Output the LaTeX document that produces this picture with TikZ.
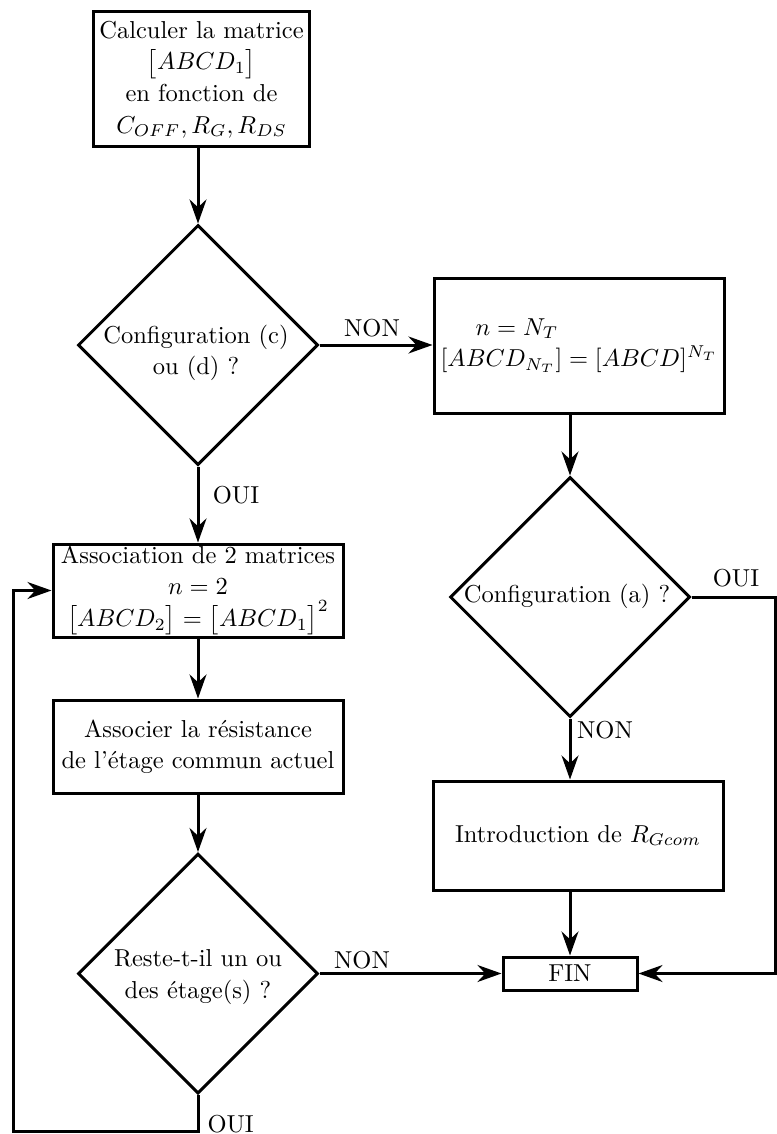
\documentclass[tikz,border=0pt]{standalone}
\usepackage{fontspec}
\usetikzlibrary{arrows.meta,shapes.geometric}
\def\pxu{0.40816pt}
\begin{document}
\begin{tikzpicture}[x=\pxu,y=-\pxu,line width=1.2245pt,
  every node/.style={font=\fontsize{10}{12.86}\selectfont,inner sep=0pt},
  box/.style={draw,rectangle,align=center,line width=1.2245pt},
  dia/.style={draw,diamond,aspect=1,minimum width={240*\pxu},minimum height={240*\pxu},line width=1.2245pt},
  txt/.style={align=center},
  arr/.style={-{Stealth[length=9.8pt,width=6.9pt,inset=3.2pt]}}]
\useasboundingbox (0,0) rectangle (777,1134);
% boxes
\node[box,minimum width={216*\pxu},minimum height={135*\pxu}] (b1) at (201.5,79.5)
  {Calculer la matrice\\$\big[ABCD_1\big]$\\en fonction de\\$C_{OFF}, R_G, R_{DS}$};
\node[dia] (d1) at (198,345) {};
\node[txt] (t1) at (196,353) {Configuration (c)\\ou (d) ?};
\node[box,align=left,minimum width={290*\pxu},minimum height={135*\pxu}] (b2) at (579,345.5)
  {\hspace*{14.3pt}$n = N_T$\\$[ABCD_{N_T}] = [ABCD]^{N_T}$};
\node[dia] (d2) at (570,597) {};
\node[txt] (t2) at (567,596) {Configuration (a) ?};
\node[box,minimum width={290*\pxu},minimum height={109*\pxu}] (b3) at (578,835.5)
  {Introduction de $R_{Gcom}$};
\node[box,minimum width={134*\pxu},minimum height={33*\pxu}] (fin) at (570,973.5) {FIN};
\node[box,minimum width={290*\pxu},minimum height={93*\pxu}] (b4) at (198,590.5)
  {Association de $2$ matrices\\$n = 2$\\$\big[ABCD_2\big] = \big[ABCD_1\big]^2$};
\node[box,minimum width={290*\pxu},minimum height={93*\pxu}] (b5) at (198,746.5)
  {Associer la résistance\\de l'étage commun actuel};
\node[dia] (d3) at (198,973.5) {};
\node[txt] (t3) at (198,977) {Reste-t-il un ou\\des étage(s) ?};
% connectors
\draw[arr] (d1.north |- b1.south) -- (d1.north);
\draw[arr] (d1.east) -- (b2.west |- d1.east);
\node (l1) at (372,328) {NON};
\draw[arr] (d2.north |- b2.south) -- (d2.north);
\coordinate (rc1) at (775.5,597);
\draw[arr] (d2.east) -- (rc1) -- (rc1 |- fin.east) -- (fin.east);
\node (l2) at (736,578) {OUI};
\draw[arr] (d2.south) -- (d2.south |- b3.north);
\node (l3) at (605,730) {NON};
\draw[arr] (d2.south |- b3.south) -- (fin.north);
\draw[arr] (d1.south) -- (b4.north);
\node (l4) at (236,495) {OUI};
\draw[arr] (b4.south) -- (b5.north);
\draw[arr] (b5.south) -- (d3.north);
\draw[arr] (d3.east) -- (fin.west);
\node (l5) at (362,960) {NON};
\coordinate (lp1) at (198,1131.5);
\coordinate (lp2) at (13,1131.5);
\draw[arr] (d3.south) -- (lp1) -- (lp2) -- (lp2 |- b4.west) -- (b4.west);
\node[anchor=west] (l6) at (206,1124) {OUI};
\end{tikzpicture}
\end{document}
